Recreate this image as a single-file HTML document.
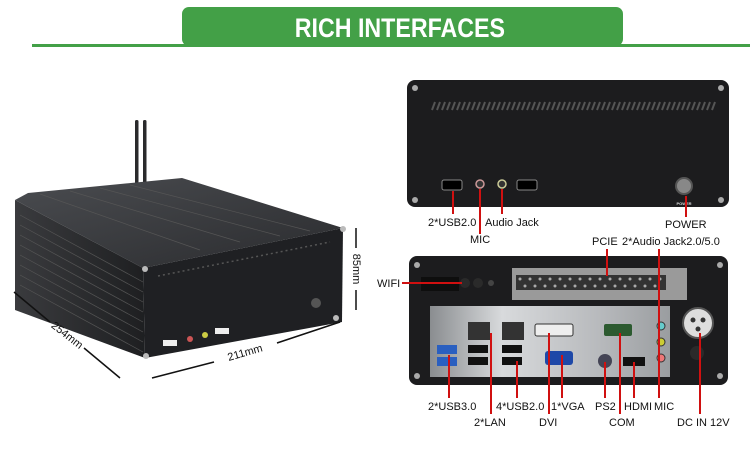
<!DOCTYPE html>
<html><head><meta charset="utf-8"><style>
html,body{margin:0;padding:0;background:#fff;width:750px;height:460px;overflow:hidden}
svg{display:block}
text{font-family:"Liberation Sans",sans-serif}
</style></head><body>
<svg width="750" height="460" viewBox="0 0 750 460" xmlns="http://www.w3.org/2000/svg">
<defs>
<linearGradient id="top" x1="0" y1="0" x2="1" y2="1"><stop offset="0" stop-color="#4a4c50"/><stop offset="1" stop-color="#2a2b2e"/></linearGradient>
<linearGradient id="side" x1="0" y1="0" x2="1" y2="0"><stop offset="0" stop-color="#3a3b3e"/><stop offset="1" stop-color="#1e1f21"/></linearGradient>
<linearGradient id="shield" x1="0" y1="0" x2="1" y2="0"><stop offset="0" stop-color="#8a8d90"/><stop offset="0.3" stop-color="#d8dadc"/><stop offset="0.7" stop-color="#b8babd"/><stop offset="1" stop-color="#9a9da0"/></linearGradient>
</defs>
<!-- header -->
<rect x="32" y="44" width="718" height="3" fill="#43a047"/>
<rect x="182" y="7" width="441" height="39" rx="7" fill="#43a047"/>
<text x="400" y="37" text-anchor="middle" font-size="27" font-weight="bold" fill="#fff" transform="scale(0.86,1) translate(65,0)">RICH INTERFACES</text>

<!-- left device -->
<rect x="135" y="120" width="3.5" height="64" rx="1.5" fill="#2a2a2c"/>
<rect x="143" y="120" width="3.5" height="64" rx="1.5" fill="#2a2a2c"/>
<polygon points="15,200 28,193 182,178 343,228 143,268" fill="url(#top)"/>
<polygon points="15,200 143,268 145,358 15,310" fill="url(#side)"/>
<polygon points="143,268 343,228 342,322 145,358" fill="#1f2023"/>
<g stroke="#555" stroke-width="0.7">
<line x1="20" y1="215" x2="143" y2="282"/><line x1="20" y1="225" x2="143" y2="292"/><line x1="20" y1="235" x2="143" y2="302"/><line x1="20" y1="245" x2="143" y2="312"/><line x1="20" y1="255" x2="143" y2="322"/><line x1="20" y1="265" x2="143" y2="332"/><line x1="20" y1="275" x2="143" y2="342"/><line x1="20" y1="285" x2="143" y2="352"/>
<line x1="40" y1="194" x2="200" y2="250"/><line x1="70" y1="191" x2="240" y2="242"/><line x1="100" y1="188" x2="280" y2="236"/><line x1="130" y1="185" x2="310" y2="231"/>
</g>
<g stroke="#555" stroke-width="1.5">
<line x1="158" y1="276" x2="330" y2="242" stroke-dasharray="2,3"/>
</g>
<circle cx="145" cy="269" r="3" fill="#bbb"/><circle cx="343" cy="229" r="3" fill="#bbb"/><circle cx="146" cy="356" r="3" fill="#bbb"/><circle cx="336" cy="318" r="3" fill="#bbb"/>
<circle cx="316" cy="303" r="5" fill="#555"/>
<rect x="163" y="340" width="14" height="6" fill="#eee"/><rect x="215" y="328" width="14" height="6" fill="#eee"/>
<circle cx="190" cy="339" r="3" fill="#c55"/><circle cx="205" cy="335" r="3" fill="#cc4"/>
<g stroke="#111" stroke-width="1.5">
<line x1="14" y1="292" x2="50" y2="322"/><line x1="84" y1="348" x2="120" y2="378"/>
<line x1="152" y1="378" x2="214" y2="362"/><line x1="277" y1="343" x2="340" y2="322"/>
<line x1="356" y1="228" x2="356" y2="248"/><line x1="356" y1="290" x2="356" y2="310"/>
</g>
<text x="65" y="338" font-size="11" fill="#111" text-anchor="middle" transform="rotate(38 65 338)">254mm</text>
<text x="246" y="356" font-size="11" fill="#111" text-anchor="middle" transform="rotate(-16 246 356)">211mm</text>
<text x="353" y="269" font-size="11" fill="#111" text-anchor="middle" transform="rotate(90 353 269)">85mm</text>

<!-- top right panel -->
<rect x="407" y="80" width="322" height="127" rx="8" fill="#1c1c1e"/>
<g stroke="#555" stroke-width="2">
<path d="M432 110 l3 -8 M437 110 l3 -8 M442 110 l3 -8 M447 110 l3 -8 M452 110 l3 -8 M457 110 l3 -8 M462 110 l3 -8 M467 110 l3 -8 M472 110 l3 -8 M477 110 l3 -8 M482 110 l3 -8 M487 110 l3 -8 M492 110 l3 -8 M497 110 l3 -8 M502 110 l3 -8 M507 110 l3 -8 M512 110 l3 -8 M517 110 l3 -8 M522 110 l3 -8 M527 110 l3 -8 M532 110 l3 -8 M537 110 l3 -8 M542 110 l3 -8 M547 110 l3 -8 M552 110 l3 -8 M557 110 l3 -8 M562 110 l3 -8 M567 110 l3 -8 M572 110 l3 -8 M577 110 l3 -8 M582 110 l3 -8 M587 110 l3 -8 M592 110 l3 -8 M597 110 l3 -8 M602 110 l3 -8 M607 110 l3 -8 M612 110 l3 -8 M617 110 l3 -8 M622 110 l3 -8 M627 110 l3 -8 M632 110 l3 -8 M637 110 l3 -8 M642 110 l3 -8 M647 110 l3 -8 M652 110 l3 -8 M657 110 l3 -8 M662 110 l3 -8 M667 110 l3 -8 M672 110 l3 -8 M677 110 l3 -8 M682 110 l3 -8 M687 110 l3 -8 M692 110 l3 -8 M697 110 l3 -8 M702 110 l3 -8 M707 110 l3 -8 M712 110 l3 -8"/>
</g>
<circle cx="415" cy="88" r="3" fill="#aaa"/><circle cx="721" cy="88" r="3" fill="#aaa"/><circle cx="415" cy="200" r="3" fill="#aaa"/><circle cx="721" cy="200" r="3" fill="#aaa"/>
<rect x="442" y="180" width="20" height="10" rx="2" fill="#000" stroke="#888"/>
<rect x="517" y="180" width="20" height="10" rx="2" fill="#000" stroke="#888"/>
<circle cx="480" cy="184" r="4" fill="#333" stroke="#c99" stroke-width="1.5"/>
<circle cx="502" cy="184" r="4" fill="#333" stroke="#cc9" stroke-width="1.5"/>
<circle cx="684" cy="186" r="8" fill="#888" stroke="#555" stroke-width="2"/>
<text x="684" y="205" font-size="4" fill="#ddd" text-anchor="middle" font-weight="bold">POWER</text>
<g stroke="#d01010" stroke-width="2">
<line x1="453" y1="191" x2="453" y2="214"/><line x1="480" y1="189" x2="480" y2="234"/><line x1="502" y1="189" x2="502" y2="214"/><line x1="686" y1="196" x2="686" y2="217"/>
</g>
<g font-size="11" fill="#111">
<text x="428" y="226">2*USB2.0</text><text x="485" y="226">Audio Jack</text><text x="470" y="243">MIC</text><text x="665" y="228">POWER</text>
<text x="592" y="245">PCIE</text><text x="622" y="245">2*Audio Jack2.0/5.0</text>
<text x="377" y="287">WIFI</text>
<text x="428" y="410">2*USB3.0</text><text x="496" y="410">4*USB2.0</text><text x="551" y="410">1*VGA</text><text x="595" y="410">PS2</text><text x="624" y="410">HDMI</text><text x="654" y="410">MIC</text>
<text x="474" y="426">2*LAN</text><text x="539" y="426">DVI</text><text x="609" y="426">COM</text><text x="677" y="426">DC IN 12V</text>
</g>

<!-- bottom right panel -->
<rect x="409" y="256" width="319" height="129" rx="8" fill="#1c1c1e"/>
<circle cx="417" cy="265" r="3" fill="#aaa"/><circle cx="720" cy="265" r="3" fill="#aaa"/><circle cx="417" cy="376" r="3" fill="#aaa"/><circle cx="720" cy="376" r="3" fill="#aaa"/>
<rect x="421" y="277" width="38" height="14" fill="#0e0e0e"/>
<circle cx="465" cy="283" r="5" fill="#2a2a2a"/><circle cx="478" cy="283" r="5" fill="#2a2a2a"/><circle cx="491" cy="283" r="3" fill="#444"/>
<rect x="512" y="268" width="175" height="32" fill="#9a9a9a"/>
<rect x="516" y="275" width="150" height="15" fill="#333"/>
<g fill="#aaa"><circle cx="520" cy="279" r="1.5"/><circle cx="530" cy="279" r="1.5"/><circle cx="540" cy="279" r="1.5"/><circle cx="550" cy="279" r="1.5"/><circle cx="560" cy="279" r="1.5"/><circle cx="570" cy="279" r="1.5"/><circle cx="580" cy="279" r="1.5"/><circle cx="590" cy="279" r="1.5"/><circle cx="600" cy="279" r="1.5"/><circle cx="610" cy="279" r="1.5"/><circle cx="620" cy="279" r="1.5"/><circle cx="630" cy="279" r="1.5"/><circle cx="640" cy="279" r="1.5"/><circle cx="650" cy="279" r="1.5"/><circle cx="660" cy="279" r="1.5"/><circle cx="525" cy="286" r="1.5"/><circle cx="535" cy="286" r="1.5"/><circle cx="545" cy="286" r="1.5"/><circle cx="555" cy="286" r="1.5"/><circle cx="565" cy="286" r="1.5"/><circle cx="575" cy="286" r="1.5"/><circle cx="585" cy="286" r="1.5"/><circle cx="595" cy="286" r="1.5"/><circle cx="605" cy="286" r="1.5"/><circle cx="615" cy="286" r="1.5"/><circle cx="625" cy="286" r="1.5"/><circle cx="635" cy="286" r="1.5"/><circle cx="645" cy="286" r="1.5"/><circle cx="655" cy="286" r="1.5"/></g>
<rect x="430" y="306" width="240" height="71" fill="url(#shield)"/>
<rect x="437" y="345" width="20" height="9" fill="#2a5fc0"/><rect x="437" y="357" width="20" height="9" fill="#2a5fc0"/>
<rect x="468" y="322" width="22" height="18" fill="#333"/><rect x="502" y="322" width="22" height="18" fill="#333"/>
<rect x="468" y="345" width="20" height="8" fill="#111"/><rect x="468" y="357" width="20" height="8" fill="#111"/>
<rect x="502" y="345" width="20" height="8" fill="#111"/><rect x="502" y="357" width="20" height="8" fill="#111"/>
<rect x="535" y="324" width="38" height="12" rx="2" fill="#eee" stroke="#333"/>
<rect x="545" y="351" width="28" height="14" rx="3" fill="#1e48a8"/>
<circle cx="605" cy="361" r="7" fill="#445"/>
<rect x="604" y="324" width="28" height="12" rx="2" fill="#2c5a30"/>
<rect x="623" y="357" width="22" height="9" fill="#111"/>
<circle cx="661" cy="326" r="4" fill="#6cc" stroke="#333"/><circle cx="661" cy="342" r="4" fill="#cc3" stroke="#333"/><circle cx="661" cy="358" r="4" fill="#e77" stroke="#333"/>
<circle cx="698" cy="323" r="15" fill="#ddd" stroke="#555" stroke-width="2"/>
<circle cx="693" cy="320" r="2.5" fill="#333"/><circle cx="703" cy="320" r="2.5" fill="#333"/><circle cx="698" cy="329" r="2.5" fill="#333"/>
<circle cx="697" cy="353" r="7" fill="#2a2a2a"/>
<g stroke="#d01010" stroke-width="2">
<line x1="402" y1="283" x2="462" y2="283"/>
<line x1="607" y1="249" x2="607" y2="276"/><line x1="659" y1="249" x2="659" y2="398"/>
<line x1="449" y1="355" x2="449" y2="398"/><line x1="491" y1="333" x2="491" y2="414"/><line x1="517" y1="361" x2="517" y2="398"/>
<line x1="562" y1="355" x2="562" y2="398"/><line x1="549" y1="333" x2="549" y2="414"/><line x1="605" y1="362" x2="605" y2="398"/>
<line x1="620" y1="333" x2="620" y2="414"/><line x1="634" y1="362" x2="634" y2="398"/><line x1="700" y1="333" x2="700" y2="414"/>
</g>
</svg>
</body></html>
